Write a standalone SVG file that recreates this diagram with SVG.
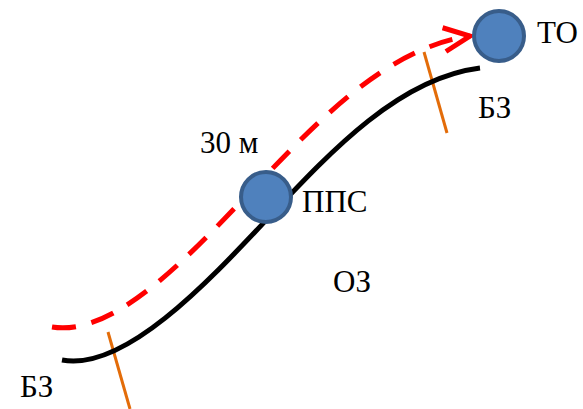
<svg xmlns="http://www.w3.org/2000/svg" width="583" height="409" viewBox="0 0 583 409">
<defs>
<style>
.lbl{font-family:"Liberation Serif","Times New Roman",serif;font-size:31px;fill:#000}
.node{fill:#4F81BD;stroke:#385D8A;stroke-width:4}
.tick{stroke:#E36C09;stroke-width:3;fill:none}
.route{stroke:#000;stroke-width:5;fill:none}
.path{stroke:#FF0000;stroke-width:5;fill:none;stroke-dasharray:24 16}
</style>
<marker id="arr" markerUnits="userSpaceOnUse" viewBox="0 0 36 36" refX="31" refY="18" markerWidth="36" markerHeight="36" orient="auto">
<path d="M5,6 L31,18 L5,30" fill="none" stroke="#FF0000" stroke-width="5"/>
</marker>
</defs>
<rect width="583" height="409" fill="#fff"/>
<g id="boundaries">
<line class="tick" x1="108" y1="332" x2="130" y2="409"/>
<line class="tick" x1="424" y1="52" x2="447" y2="133"/>
</g>
<g id="connectors">
<path class="route" d="M62,360 C125,372 210,280 271,215 S400,78 480,68"/>
<path class="path" d="M52,327 C115,337 190,255 252,190 S385,48 470,36" marker-end="url(#arr)"/>
</g>
<g id="node-pps">
<circle class="node" cx="266" cy="197" r="25"/>
<text class="lbl" x="302" y="212">ППС</text>
</g>
<g id="node-to">
<circle class="node" cx="499" cy="36" r="25"/>
<text class="lbl" x="537" y="43">ТО</text>
</g>
<g id="labels">
<text class="lbl" x="478" y="118">БЗ</text>
<text class="lbl" x="200" y="153">30 м</text>
<text class="lbl" x="333" y="292">ОЗ</text>
<text class="lbl" x="20" y="397">БЗ</text>
</g>
</svg>
